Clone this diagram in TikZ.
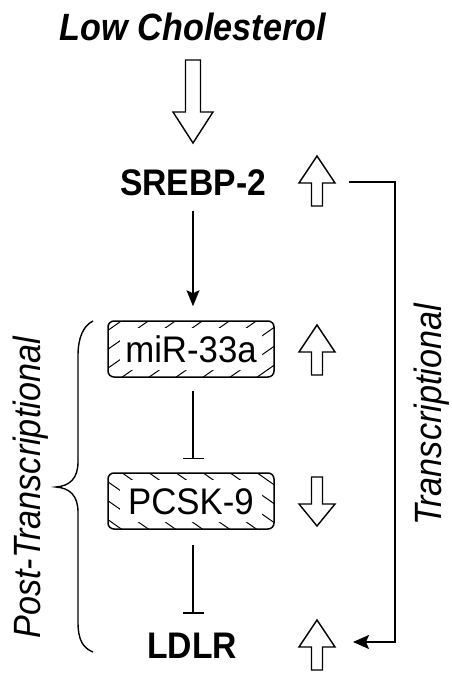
\documentclass[tikz,border=0pt]{standalone}
\usepackage{fontspec}
\usepackage{graphicx}
\setmainfont{Liberation Sans}
\usetikzlibrary{arrows.meta}
\newcommand\fsz[1]{\fontsize{#1}{#1}\selectfont}
\begin{document}
\begin{tikzpicture}[x=1pt,y=-1pt,line width=1.5pt,
  lbl/.style={inner sep=0pt,anchor=base},
  hatchbox/.style={draw,rounded corners=6pt,minimum width=166pt,minimum height=56pt,
     inner sep=0pt,text height=26pt,text depth=0pt},
  blockarrow/.style={draw,line width=1.4pt,fill=white,line join=miter},
  conn/.style={line width=1.5pt},
  pics/uparr/.style={code={\draw[blockarrow] (0,0) -- (18,27) -- (5.5,27) -- (5.5,50) -- (-5.5,50) -- (-5.5,27) -- (-18,27) -- cycle;}},
  pics/downarr/.style={code={\draw[blockarrow] (0,0) -- (18,-22) -- (5.5,-22) -- (5.5,-49) -- (-5.5,-49) -- (-5.5,-22) -- (-18,-22) -- cycle;}}
]
\useasboundingbox (0,0) rectangle (452,673);

% texts
\node[lbl] (low) at (193,40) {\fsz{38}\bfseries\itshape\scalebox{0.9}[1]{Low Cholesterol}};
\node[lbl] (srebp) at (193,195) {\fsz{37}\bfseries\scalebox{0.91}[1]{SREBP-2}};
\node[lbl] (ldlr) at (192,658) {\fsz{37}\bfseries\scalebox{0.91}[1]{LDLR}};

% hatched boxes
\node[hatchbox,path picture={
   \foreach \i in {-5,...,7}
     \draw[line width=1pt] ([xshift=\i*27pt,yshift=-10pt]path picture bounding box.south west) -- ++(100pt,70pt);
   \fill[white,rounded corners=3pt] ([shift={(12pt,7pt)}]path picture bounding box.south west) rectangle ([shift={(-12pt,-7pt)}]path picture bounding box.north east);
  }] (mir) at (191,349) {\fsz{37}\scalebox{0.94}[1]{miR-33a}};
\node[hatchbox,path picture={
   \foreach \i in {-5,...,7}
     \draw[line width=1pt] ([xshift=\i*27pt,yshift=10pt]path picture bounding box.north west) -- ++(100pt,-70pt);
   \fill[white,rounded corners=3pt] ([shift={(12pt,7pt)}]path picture bounding box.south west) rectangle ([shift={(-12pt,-7pt)}]path picture bounding box.north east);
  }] (pcsk) at (191,501) {\fsz{37}\scalebox{0.94}[1]{PCSK-9}};

% side labels
\node[lbl,rotate=90] (post) at (40,488) {\fsz{38}\itshape\scalebox{0.9}[1]{Post-Transcriptional}};
\node[lbl,rotate=90] (trans) at (441,415) {\fsz{38}\itshape\scalebox{0.9}[1]{Transcriptional}};

% big hollow arrow
\draw[blockarrow] (193,143) -- (213,112) -- (200.5,112) -- (200.5,60) -- (185.5,60) -- (185.5,112) -- (173,112) -- cycle;

% small block arrows
\pic at (317,156) {uparr};
\pic at (317,325) {uparr};
\pic at (317,526) {downarr};
\pic at (317,620) {uparr};

% connectors
\draw[conn,-{Stealth[length=16pt,width=13pt,inset=3pt]},shorten <=15pt,shorten >=14pt]
  (srebp.south) -- (srebp.south |- mir.north);
\draw[conn,-{Bar[width=21pt,line width=1.5pt]},shorten <=13pt,shorten >=13pt]
  ([xshift=2pt]mir.south) -- ([xshift=2pt]pcsk.north);
\draw[conn,-{Bar[width=21pt,line width=1.5pt]},shorten <=15pt,shorten >=18pt]
  ([xshift=2pt]pcsk.south) -- ([xshift=1pt]ldlr.north);

% transcriptional feedback
\coordinate (tA) at (349,182);
\coordinate (tB) at (353,642);
\coordinate (tc) at (395,400);
\draw[conn,-{Stealth[length=16pt,width=14pt,inset=3pt]}] (tA) -- (tA -| tc) -- (tB -| tc) -- (tB);

% brace
\draw[line width=1.4pt] (93,321) .. controls (83,326) and (78,338) .. (78,356) -- (78,462)
  .. controls (78,478) and (70,486) .. (56,487)
  .. controls (70,488) and (78,496) .. (78,512) -- (78,622)
  .. controls (78,640) and (83,648) .. (93,652);
\end{tikzpicture}
\end{document}
